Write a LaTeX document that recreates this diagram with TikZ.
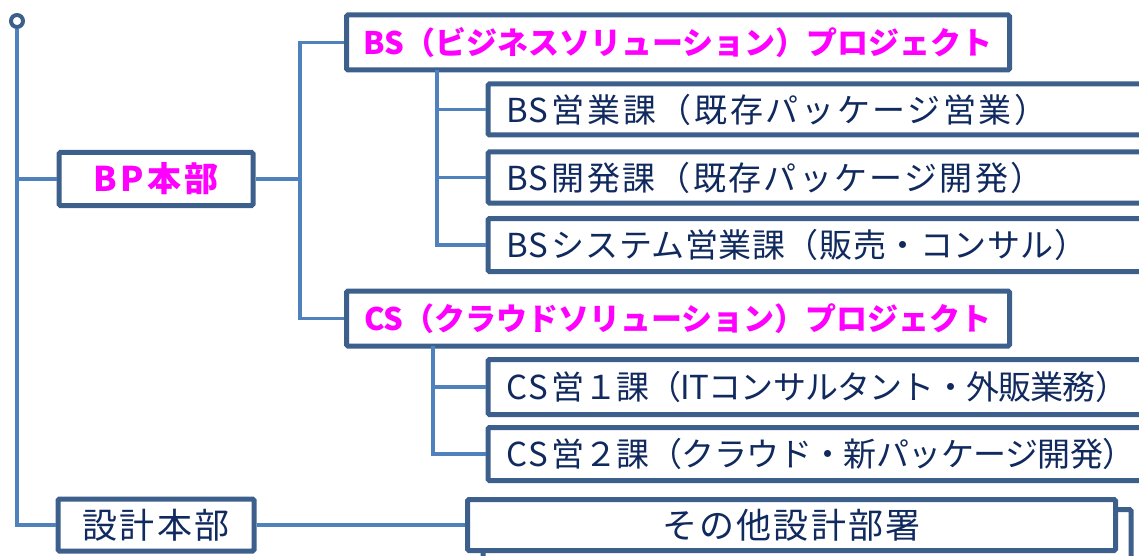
\documentclass[tikz,border=0pt]{standalone}
\usepackage{fontspec}
\setmainfont{Noto Sans CJK JP}
\definecolor{boxc}{HTML}{3D5F8B}
\definecolor{linec}{HTML}{4F81BD}
\definecolor{navy}{HTML}{10295E}
\definecolor{mag}{HTML}{FF00FF}
\newcommand{\lsp}[1]{\addfontfeatures{LetterSpace=#1}}
\newcommand{\wl}[1]{\makebox[23pt][l]{#1}}
\tikzset{
  box/.style={draw=boxc, line width=5pt, fill=white, rounded corners=1.5pt, inner sep=0pt},
  headbox/.style={box, font=\fontsize{31pt}{31pt}\selectfont\bfseries, text=mag},
  plainbox/.style={box, font=\fontsize{35pt}{35pt}\selectfont, text=navy},
  subbox/.style={box, font=\fontsize{33pt}{33pt}\selectfont, text=navy, anchor=west,
     minimum width=700pt, text width=664pt, inner xsep=17pt, align=left},
  conn/.style={draw=linec, line width=3.5pt},
}
\begin{document}
\begin{tikzpicture}[x=1pt,y=-1pt]
\useasboundingbox (0,0) rectangle (1139,556);
% back box behind "other"
\node[box, minimum width=648pt, minimum height=51pt] (backbox) at (807,535) {};
% nodes
\node[headbox, font=\fontsize{34pt}{34pt}\selectfont\bfseries, minimum width=194pt, minimum height=53pt] (bp) at (156,179) {\lsp{10}BP本部};
\node[plainbox, minimum width=196pt, minimum height=52pt] (sekkei) at (156,525) {\lsp{6}設計本部};
\node[headbox, minimum width=663pt, minimum height=55pt] (bsp) at (678,42.5) {BS（ビジネスソリューション）プロジェクト};
\node[headbox, minimum width=663pt, minimum height=55pt] (csp) at (678,318.5) {CS（クラウドソリューション）プロジェクト};
\node[subbox, minimum height=51pt] (bs1) at (485.5,109.5) {\lsp{8}\wl{B}\wl{S}営業課（既存パッケージ営業）};
\node[subbox, minimum height=51pt] (bs2) at (485.5,177.5) {\lsp{7}\wl{B}\wl{S}開発課（既存パッケージ開発）};
\node[subbox, minimum height=53pt] (bs3) at (485.5,245) {\lsp{1.7}\wl{B}\wl{S}システム営業課（販売・コンサル）};
\node[subbox, minimum height=55pt] (cs1) at (485.5,387) {\lsp{-2.4}\wl{C}\wl{S}営１課（ITコンサルタント・外販業務）};
\node[subbox, minimum height=53pt] (cs2) at (485.5,454) {\lsp{-1.7}\wl{C}\wl{S}営２課（クラウド・新パッケージ開発）};
\node[plainbox, minimum width=648pt, minimum height=51pt] (other) at (791.5,525) {\lsp{6.5}その他設計部署};
% stub below "other"
\draw[draw=boxc, line width=4pt] (other.south west) ++(18,0) coordinate (stubtop) -- ++(0,10);
% connectors
\node[circle, draw=boxc, line width=4pt, fill=white, minimum size=12pt, inner sep=0pt] (dot) at (17,21) {};
\coordinate (tA) at (17,179);
\coordinate (tB) at (17,525);
\draw[conn] (dot.south) -- (tB) -- (sekkei.west);
\draw[conn] (tA) -- (bp.west);
\coordinate (pA) at (300,179);
\coordinate (pB) at (300,42.5);
\coordinate (pC) at (300,318.5);
\draw[conn] (bp.east) -- (pA);
\draw[conn] (bsp.west) -- (pB) -- (pC) -- (csp.west);
\coordinate (bA) at (437,70);
\coordinate (bB) at (437,109.5);
\coordinate (bC) at (437,177.5);
\coordinate (bD) at (437,245);
\draw[conn] (bA) -- (bD) -- (bs3.west);
\draw[conn] (bB) -- (bs1.west);
\draw[conn] (bC) -- (bs2.west);
\coordinate (cA) at (433,346);
\coordinate (cB) at (433,387);
\coordinate (cC) at (433,454);
\draw[conn] (cA) -- (cC) -- (cs2.west);
\draw[conn] (cB) -- (cs1.west);
\draw[conn] (sekkei.east) -- (other.west);
\end{tikzpicture}
\end{document}
